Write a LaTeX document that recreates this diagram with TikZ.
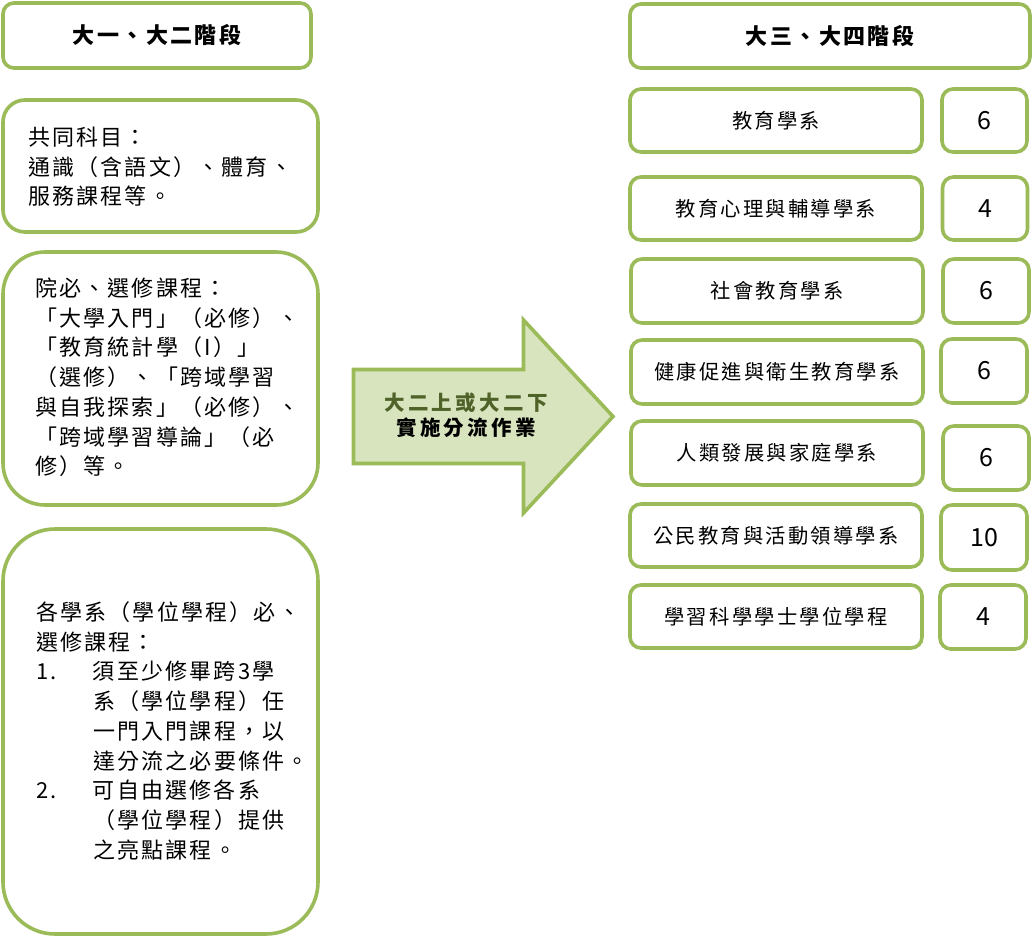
\documentclass[tikz,border=0pt]{standalone}
\usepackage{fontspec}
\setmainfont{Noto Sans CJK TC}
\definecolor{boxgreen}{HTML}{9BBB59}
\definecolor{arrowfill}{HTML}{D7E4BD}
\definecolor{darkgreen}{HTML}{4F6228}
\newcommand\lfont{\fontsize{22}{29.7}\selectfont\addfontfeature{LetterSpace=10}}
\newcommand\hfont{\fontsize{22}{26}\selectfont\bfseries\addfontfeature{LetterSpace=11}}
\newcommand\dfont{\fontsize{20.3}{24}\selectfont\addfontfeature{LetterSpace=11}}
\newcommand\nfont{\fontsize{25}{30}\selectfont}
\newcommand\afont{\fontsize{20.5}{25}\selectfont\bfseries\addfontfeature{LetterSpace=16}}
\newcommand\ind{\hspace*{57pt}}
\tikzset{
  gbox/.style={draw=boxgreen, line width=3.6pt, fill=white, inner sep=0pt, outer sep=0pt, rounded corners=#1},
  gbox/.default=11pt,
  txt/.style={inner sep=0pt, outer sep=0pt, anchor=base west},
  bigarrow/.style={draw=boxgreen, line width=3.6pt, fill=arrowfill},
}
\begin{document}
\begin{tikzpicture}[x=1pt,y=-1pt]
\useasboundingbox[fill=white] (0,0) rectangle (1033,939);

% left column
\node[gbox, minimum width=308pt, minimum height=65pt] (h1) at (157,35.5) {\hfont 大一、大二階段};
\node[gbox=22pt, minimum width=315pt, minimum height=132pt] (b2) at (160.5,166) {};
\node[gbox=42pt, minimum width=315pt, minimum height=253pt] (b3) at (160.5,378.5) {};
\node[gbox=52pt, minimum width=315pt, minimum height=405pt] (b4) at (160.5,731.5) {};

\node[txt] (t2) at (28,145.5) {\parbox[t]{300pt}{\lfont 共同科目：\\通識（含語文）、體育、\\服務課程等。}};
\node[txt] (t3) at (35,296.5) {\parbox[t]{300pt}{\lfont 院必、選修課程：\\「大學入門」（必修）、\\「教育統計學（I）」\\（選修）、「跨域學習\\與自我探索」（必修）、\\「跨域學習導論」（必\\修）等。}};
\node[txt] (t4) at (36,620.5) {\parbox[t]{300pt}{\lfont 各學系（學位學程）必、\\選修課程：\\\makebox[57pt][l]{1.}須至少修畢跨3學\\\ind 系（學位學程）任\\\ind 一門入門課程，以\\\ind 達分流之必要條件。\\\makebox[57pt][l]{2.}可自由選修各系\\\ind （學位學程）提供\\\ind 之亮點課程。}};

% arrow
\draw[bigarrow] (353.5,369.5) -- (523.5,369.5) -- (523.5,320) -- (613,416.5) -- (523.5,513) -- (523.5,463.5) -- (353.5,463.5) -- cycle;
\node[align=center, inner sep=0pt, font=\afont] (at) at (466,415.5) {\textcolor{darkgreen}{大二上或大二下}\\實施分流作業};

% right column
\node[gbox, minimum width=400pt, minimum height=64pt] (h2) at (830,36) {\hfont 大三、大四階段};

\node[gbox, minimum width=292pt, minimum height=63pt] (d1) at (776,120.5) {\dfont 教育學系};
\node[gbox, minimum width=85pt, minimum height=63pt] (n1) at (984.5,120.5) {\nfont 6};

\node[gbox, minimum width=292pt, minimum height=63pt] (d2) at (776,208.5) {\dfont 教育心理與輔導學系};
\node[gbox, minimum width=85pt, minimum height=63pt] (n2) at (985,208.5) {\nfont 4};

\node[gbox, minimum width=292pt, minimum height=64pt] (d3) at (777,291) {\dfont 社會教育學系};
\node[gbox, minimum width=86pt, minimum height=64pt] (n3) at (986,291) {\nfont 6};

\node[gbox, minimum width=292pt, minimum height=64pt] (d4) at (777,372) {\dfont 健康促進與衛生教育學系};
\node[gbox, minimum width=86pt, minimum height=64pt] (n4) at (984,371) {\nfont 6};

\node[gbox, minimum width=292pt, minimum height=64pt] (d5) at (777,453) {\dfont 人類發展與家庭學系};
\node[gbox, minimum width=86pt, minimum height=64pt] (n5) at (986,458) {\nfont 6};

\node[gbox, minimum width=292pt, minimum height=63pt] (d6) at (776,535.5) {\dfont 公民教育與活動領導學系};
\node[gbox, minimum width=86pt, minimum height=65pt] (n6) at (984,537.5) {\nfont 10};

\node[gbox, minimum width=292pt, minimum height=63pt] (d7) at (776,616.5) {\dfont 學習科學學士學位學程};
\node[gbox, minimum width=86pt, minimum height=64pt] (n7) at (983,617) {\nfont 4};
\end{tikzpicture}
\end{document}
